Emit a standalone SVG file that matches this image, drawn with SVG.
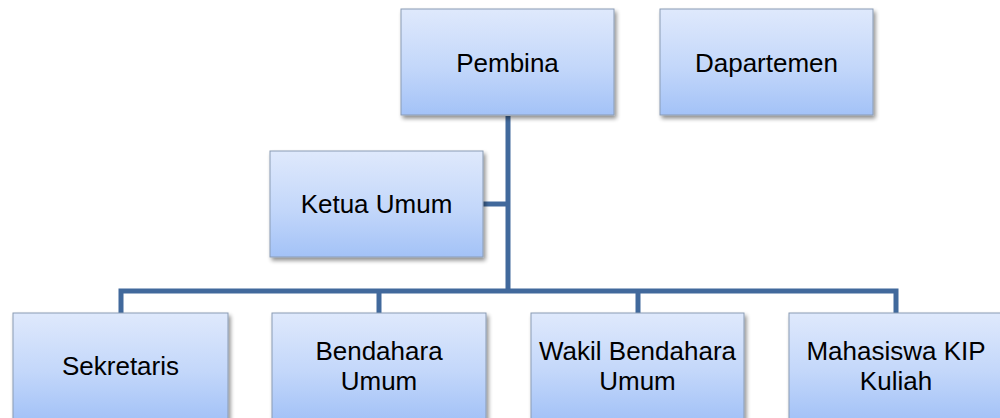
<svg xmlns="http://www.w3.org/2000/svg" width="1000" height="418" viewBox="0 0 1000 418">
<defs>
<linearGradient id="g" x1="0" y1="0" x2="0" y2="1">
<stop offset="0" stop-color="#dfe9fc"/>
<stop offset="0.55" stop-color="#c3d7fa"/>
<stop offset="1" stop-color="#a3c2f7"/>
</linearGradient>
<filter id="sh" x="-10%" y="-10%" width="125%" height="130%">
<feGaussianBlur in="SourceAlpha" stdDeviation="2"/>
<feOffset dx="1.5" dy="2.5"/>
<feComponentTransfer><feFuncA type="linear" slope="0.45"/></feComponentTransfer>
<feMerge><feMergeNode/><feMergeNode in="SourceGraphic"/></feMerge>
</filter>
</defs>
<style>
.box{fill:url(#g);stroke:#8a9bb3;stroke-width:1;filter:url(#sh)}
.t{font-family:"Liberation Sans",Arial,sans-serif;font-size:26px;fill:#000;text-anchor:middle}
.c{fill:none;stroke:#41699c;stroke-width:5;stroke-linejoin:miter}
</style>
<rect width="1000" height="418" fill="#fff"/>
<g id="connectors">
<path class="c" d="M508 116 V291"/>
<path class="c" d="M483 204 H508"/>
<path class="c" d="M121 313 V291 H896 V313"/>
<path class="c" d="M379 291 V313"/>
<path class="c" d="M638 291 V313"/>
</g>
<g id="pembina"><rect class="box" x="401" y="9" width="213" height="106"/><text class="t" x="507.5" y="72">Pembina</text></g>
<g id="dapartemen"><rect class="box" x="660" y="9" width="213" height="106"/><text class="t" x="766.5" y="72">Dapartemen</text></g>
<g id="ketua"><rect class="box" x="270" y="151" width="213" height="106"/><text class="t" x="376.5" y="213">Ketua Umum</text></g>
<g id="sekretaris"><rect class="box" x="13" y="313" width="215" height="107"/><text class="t" x="120.5" y="375">Sekretaris</text></g>
<g id="bendahara"><rect class="box" x="272" y="313" width="214" height="107"/><text class="t" x="379" y="360">Bendahara</text><text class="t" x="379" y="390">Umum</text></g>
<g id="wakil"><rect class="box" x="531" y="313" width="213" height="107"/><text class="t" x="637.5" y="360">Wakil Bendahara</text><text class="t" x="637.5" y="390">Umum</text></g>
<g id="mahasiswa"><rect class="box" x="789" y="313" width="214" height="107"/><text class="t" x="896" y="360">Mahasiswa KIP</text><text class="t" x="896" y="390">Kuliah</text></g>
</svg>
